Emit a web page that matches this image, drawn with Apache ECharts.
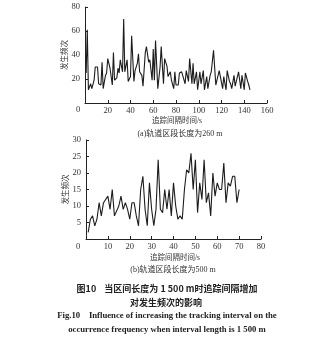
<!DOCTYPE html>
<html>
<head>
<meta charset="utf-8">
<script src="https://cdn.jsdelivr.net/npm/echarts@6/dist/echarts.min.js"></script>
<style>
html,body{margin:0;padding:0;background:#fff;}
#c{width:309px;height:348px;}
</style>
</head>
<body>
<div id="c"></div>
<script>
// (a) 260 m section
var topX = [1,2,3,5,6,8,9,11,12,14,15,16,18,19,20,22,24,25,26,28,29,30,31,33,34,35,37,38,40,41,43,44,46,47,48,50,51,53,54,56,57,59,60,61,62,64,
  66,67,69,70,72,73,75,76,78,79,80,82,83,85,86,88,89,91,92,94,95,96,98,99,101,102,104,105,107,108,110,111,112,113,115,116,118,119,121,122,124,125,127,128,129,131,132,134,135,137,138,140,141,143,144,145];
var topY = [25,61,11,16,12,19,30,30,16,15,34,12,23,25,37,29,15,42,19,21,29,25,36,26,70,26,36,18,22,56,18,27,33,41,26,23,14,42,47,34,36,19,45,19,52,12,
  30,47,16,37,31,22,26,19,12,26,15,15,25,26,26,16,27,18,37,16,33,16,26,11,26,16,27,11,22,12,23,26,27,44,15,19,27,22,12,22,11,27,18,16,12,23,14,22,26,12,23,11,25,18,15,11];
// (b) 500 m section
var botX = [1,2,3,4,5,6,7,8,10,11,12,13,15,16,17,18,19,20,21,22,23,24,25,26,27,28,29,30,31,32,
  33,34,35,36,37,38,39,40,41,42,43,44,45,46,47,48,49,50,51,52,53,54,55,56,57,58,59,60,61,62,63,64,65,66,67,68,69,70];
var botY = [2,6,7,4,6,11,7,11,13,9,15,7,10,13,9,11,9,6,11,11,7,4,15,19,9,4,17,9,4,9,
  24,9,8,15,9,15,7,17,10,6,7,6,15,21,20,26,15,24,8,17,12,24,11,14,7,20,13,17,15,15,23,11,17,16,19,19,11,15];
var topXTicks = {min:0, max:160, interval:20};
var topYTicks = {min:0, max:80, interval:20};
var botXTicks = {min:0, max:80, interval:10};
var botYTicks = {min:0, max:30, interval:5};

var serif = '"Liberation Serif","Times New Roman","Noto Sans CJK SC",serif';
var cjk = '"Liberation Serif","Noto Sans CJK SC",serif';
function pairs(xs, ys){ return xs.map(function(x,i){ return [x, ys[i]]; }); }

function xAxisCfg(idx, t){
  return {type:'value', gridIndex:idx, min:t.min, max:t.max, interval:t.interval,
    axisLine:{lineStyle:{color:'#222', width:1}},
    axisTick:{inside:true, length:3, lineStyle:{color:'#222'}},
    axisLabel:{showMinLabel:false, fontFamily:serif, fontSize:8.5, color:'#333', margin:4},
    splitLine:{show:false}};
}
function yAxisCfg(idx, t){
  return {type:'value', gridIndex:idx, min:t.min, max:t.max, interval:t.interval,
    name:'发生频次', nameLocation:'middle', nameRotate:90, nameGap:16, nameMoveOverlap:false,
    nameTextStyle:{fontFamily:cjk, fontSize:7.5, color:'#333'},
    axisLine:{show:true, lineStyle:{color:'#222', width:1}},
    axisTick:{show:true, inside:true, length:3, lineStyle:{color:'#222'}},
    axisLabel:{showMinLabel:false, fontFamily:serif, fontSize:8.5, color:'#333', margin:5},
    splitLine:{show:false}};
}

var chart = echarts.init(document.getElementById('c'), null, {renderer:'canvas'});
chart.setOption({
  animation:false,
  backgroundColor:'#fff',
  grid:[
    {left:85, top:7, width:182, height:96},
    {left:86, top:140, width:175, height:99}
  ],
  xAxis:[xAxisCfg(0, topXTicks), xAxisCfg(1, botXTicks)],
  yAxis:[yAxisCfg(0, topYTicks), yAxisCfg(1, botYTicks)],
  series:[
    {type:'line', xAxisIndex:0, yAxisIndex:0, data:pairs(topX, topY), symbol:'none',
      lineStyle:{color:'#1c1c1c', width:1.1}},
    {type:'line', xAxisIndex:1, yAxisIndex:1, data:pairs(botX, botY), symbol:'none',
      lineStyle:{color:'#1c1c1c', width:1.1}}
  ],
  graphic:[
    {type:'text', left:76, top:106, style:{text:'0', font:'8.5px '+serif, fill:'#333'}},
    {type:'text', left:76, top:243, style:{text:'0', font:'8.5px '+serif, fill:'#333'}},
    {type:'text', x:177, y:121, style:{text:'追踪间隔时间/s', font:'7.5px '+cjk, fill:'#333', align:'center', verticalAlign:'middle'}},
    {type:'text', x:180, y:134, style:{text:'(a)轨道区段长度为260 m', font:'8px '+cjk, fill:'#333', align:'center', verticalAlign:'middle'}},
    {type:'text', x:175, y:258, style:{text:'追踪间隔时间/s', font:'7.5px '+cjk, fill:'#333', align:'center', verticalAlign:'middle'}},
    {type:'text', x:173, y:270, style:{text:'(b)轨道区段长度为500 m', font:'8px '+cjk, fill:'#333', align:'center', verticalAlign:'middle'}},
    {type:'text', x:167, y:289, style:{text:'图10    当区间长度为 1 500 m时追踪间隔增加', font:'bold 9px "Noto Sans CJK SC",sans-serif', fill:'#222', align:'center', verticalAlign:'middle'}},
    {type:'text', x:166, y:303, style:{text:'对发生频次的影响', font:'bold 9px "Noto Sans CJK SC",sans-serif', fill:'#222', align:'center', verticalAlign:'middle'}},
    {type:'text', x:167, y:316, style:{text:'Fig.10    Influence of increasing the tracking interval on the', font:'bold 8.7px '+serif, fill:'#222', align:'center', verticalAlign:'middle'}},
    {type:'text', x:167, y:330, style:{text:'occurrence frequency when interval length is 1 500 m', font:'bold 8.7px '+serif, fill:'#222', align:'center', verticalAlign:'middle'}}
  ]
});
</script>
</body>
</html>
